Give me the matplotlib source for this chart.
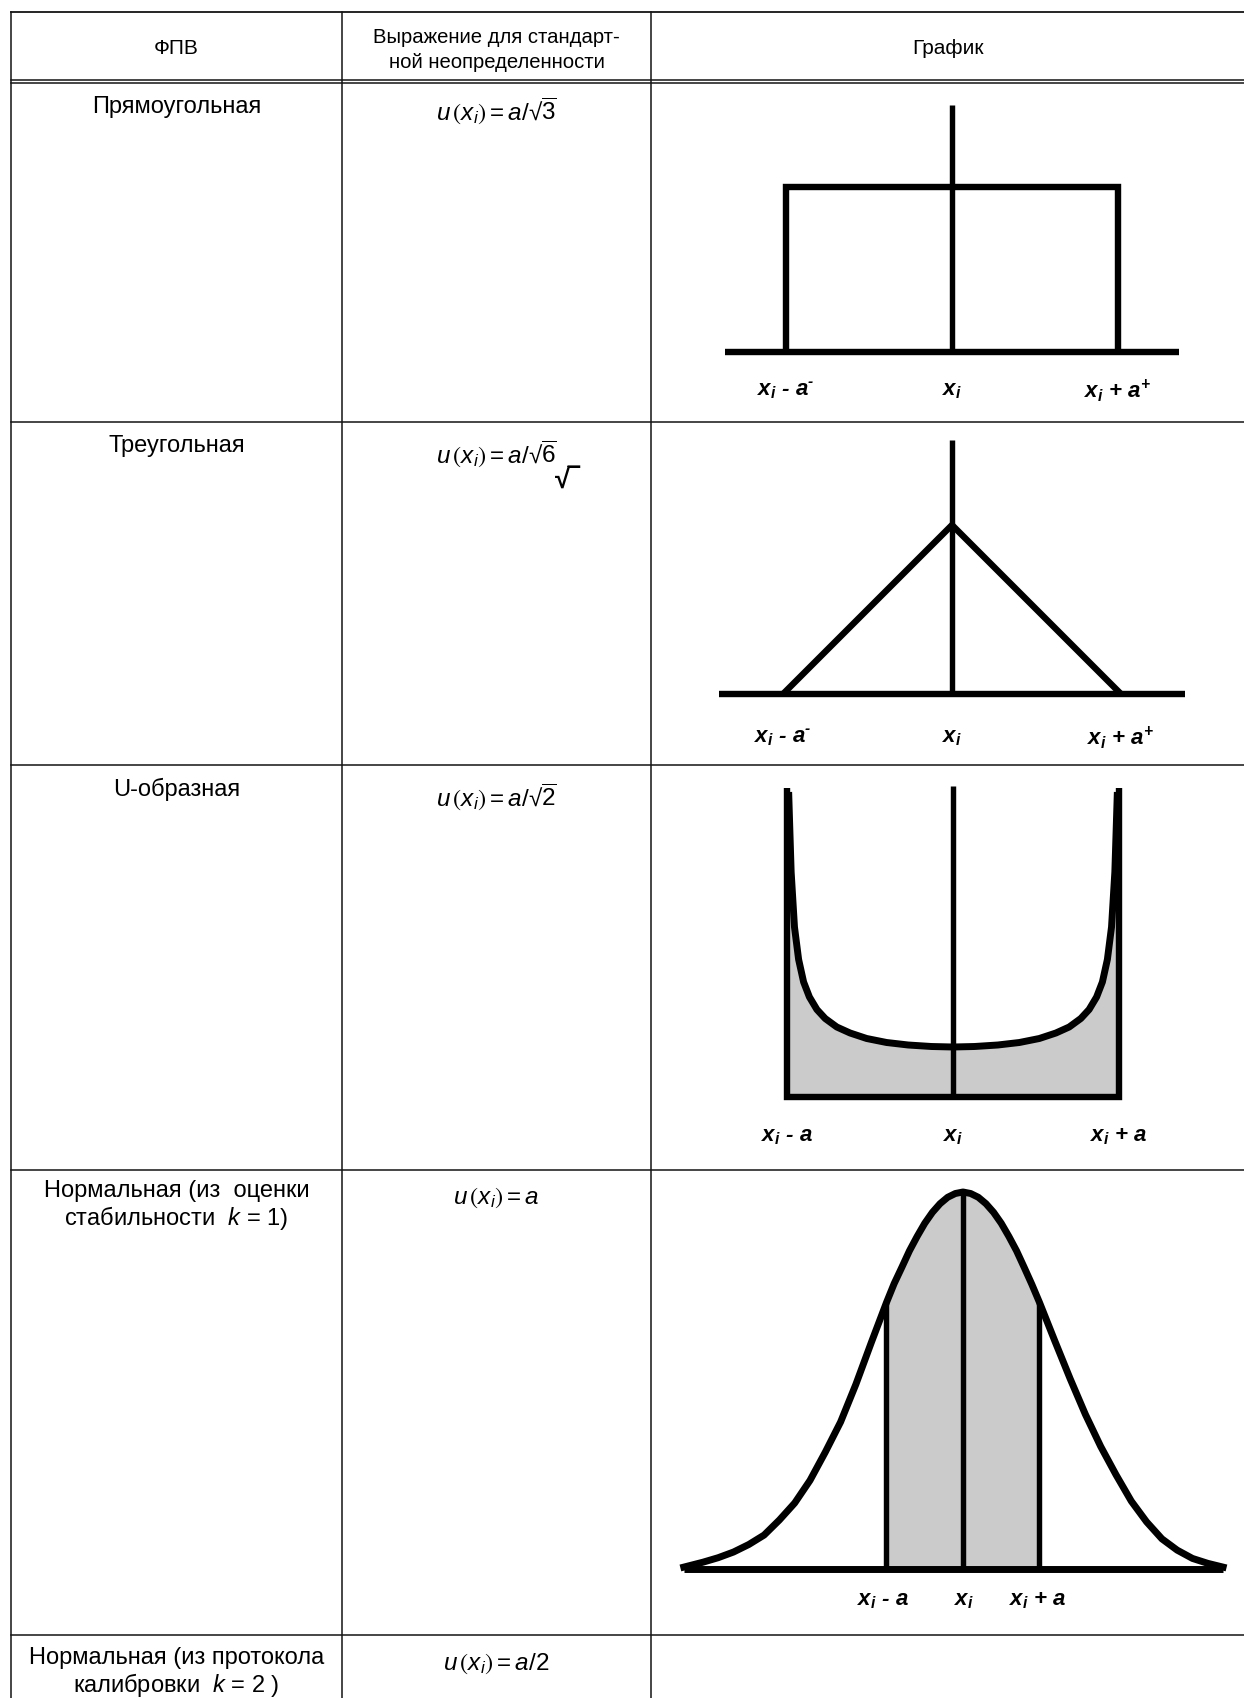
import numpy as np
import matplotlib
matplotlib.use('Agg')
import matplotlib.pyplot as plt

plt.rcParams['font.family'] = ['Liberation Sans', 'DejaVu Sans']
plt.rcParams['mathtext.fontset'] = 'custom'
plt.rcParams['mathtext.rm'] = 'Liberation Sans'
plt.rcParams['mathtext.it'] = 'Liberation Sans:italic'
plt.rcParams['mathtext.bf'] = 'Liberation Sans:bold:italic'
plt.rcParams['mathtext.fallback'] = 'stixsans'

# ---------------- data ----------------
headers = ['ФПВ', 'Выражение для стандарт-\nной неопределенности', 'График']
pdf_names = ['Прямоугольная', 'Треугольная', 'U-образная',
             'Нормальная (из  оценки\nстабильности  $k$ = 1)',
             'Нормальная (из протокола\nкалибровки  $k$ = 2 )']
formulas = ['$u\\,\\left(x_i\\right) = a/\u221a\\overline{3}$',
            '$u\\,\\left(x_i\\right) = a/\u221a\\overline{6}$',
            '$u\\,\\left(x_i\\right) = a/\u221a\\overline{2}$',
            r'$u\,\left(x_i\right) = a$',
            r'$u\,\left(x_i\right) = a/2$']
stray_radical = '\u221a\u203e'

labels_asym = ['$\\mathbf{x_i}$ - $\\mathbf{a^{\u2010}}$', r'$\mathbf{x_i}$', r'$\mathbf{x_i}$ + $\mathbf{a^{+}}$']
labels_sym = [r'$\mathbf{x_i}$ - $\mathbf{a}$', r'$\mathbf{x_i}$', r'$\mathbf{x_i}$ + $\mathbf{a}$']
label_pos = [-1.0, 0.0, 1.0]

# rectangular pdf
rect_x = [-1.0, -1.0, 1.0, 1.0]
rect_y = [0.0, 1.0, 1.0, 0.0]
# triangular pdf
tri_x = [-1.0, 0.0, 1.0]
tri_y = [0.0, 1.0, 0.0]
# U-shaped pdf (relative to its minimum)
u_x = [-0.99, -0.975, -0.955, -0.93, -0.90, -0.865, -0.82, -0.77, -0.70, -0.62,
       -0.52, -0.40, -0.27, -0.13, 0.0, 0.13, 0.27, 0.40, 0.52, 0.62, 0.70, 0.77,
       0.82, 0.865, 0.90, 0.93, 0.955, 0.975, 0.99]
u_y = [6.1, 4.5, 3.4, 2.75, 2.3, 2.0, 1.75, 1.57, 1.40, 1.28,
       1.17, 1.09, 1.04, 1.01, 1.0, 1.01, 1.04, 1.09, 1.17, 1.28, 1.40, 1.57,
       1.75, 2.0, 2.3, 2.75, 3.4, 4.5, 6.1]
# normal pdf (relative to its peak)
n_x = [-3.65, -3.4, -3.2, -3.0, -2.8, -2.6, -2.4, -2.2, -2.0, -1.8, -1.6, -1.4, -1.2,
       -1.0, -0.9, -0.8, -0.7, -0.6, -0.5, -0.4, -0.3, -0.2, -0.1, 0.0,
       0.1, 0.2, 0.3, 0.4, 0.5, 0.6, 0.7, 0.8, 0.9, 1.0,
       1.2, 1.4, 1.6, 1.8, 2.0, 2.2, 2.4, 2.6, 2.8, 3.0, 3.2, 3.4]
n_y = [0.005, 0.018, 0.03, 0.045, 0.065, 0.09, 0.13, 0.175, 0.235, 0.31, 0.39, 0.49, 0.6,
       0.707, 0.757, 0.80, 0.844, 0.882, 0.917, 0.946, 0.969, 0.986, 0.996, 1.0,
       0.996, 0.986, 0.969, 0.946, 0.917, 0.882, 0.844, 0.80, 0.755, 0.707,
       0.605, 0.505, 0.41, 0.325, 0.25, 0.18, 0.125, 0.08, 0.05, 0.028, 0.015, 0.005]

# ---------------- layout ----------------
W, H = 1244, 1699
DPI = 100
fig = plt.figure(figsize=(W / DPI, H / DPI), dpi=DPI)
bg = fig.add_axes([0, 0, 1, 1])
bg.set_xlim(0, W)
bg.set_ylim(H, 0)
bg.axis('off')

col_x = [11, 342, 651, 1245]
row_y = [82, 423, 766, 1171, 1636, 1720]
top_y = 12.5
LC = '#141414'
TLW = 1.1

# table lines
bg.plot([col_x[0], W], [top_y, top_y], color=LC, lw=1.3)
bg.plot([col_x[0], W], [row_y[0] - 1.5, row_y[0] - 1.5], color=LC, lw=TLW)
bg.plot([col_x[0], W], [row_y[0] + 1.5, row_y[0] + 1.5], color=LC, lw=TLW)
for y in row_y[1:-1]:
    bg.plot([col_x[0], W], [y, y], color=LC, lw=TLW)
for x in col_x:
    bg.plot([x, x], [top_y, H], color=LC, lw=TLW)

HFS = 15
FS = 17
MFS = 17.5
cx = [(col_x[i] + col_x[i + 1]) / 2 for i in range(3)]
bg.text(cx[0], 48, headers[0], ha='center', va='center', fontsize=HFS)
bg.text(cx[1], 50, headers[1], ha='center', va='center', fontsize=14.6, linespacing=1.45)
bg.text(cx[2], 48, headers[2], ha='center', va='center', fontsize=HFS)

name_y = [107, 446, 789, 1206, 1673]
form_y = [111, 454, 797, 1198, 1664]
for i in range(5):
    bg.text(cx[0], name_y[i], pdf_names[i], ha='center', va='center', fontsize=FS,
            linespacing=1.1)
    bg.text(cx[1], form_y[i], formulas[i], ha='center', va='center', fontsize=MFS)
bg.text(567, 481, stray_radical, ha='center', va='center', fontsize=FS + 3, fontweight='bold')


def graph_axes(left, right, top, bottom, xlim, ylim):
    ax = fig.add_axes([left / W, 1 - bottom / H, (right - left) / W, (bottom - top) / H])
    ax.set_xlim(*xlim)
    ax.set_ylim(*ylim)
    ax.axis('off')
    return ax


GLW = 4.6
CLW = 3.9
LFS = 16
lab_kw = dict(ha='center', va='center', fontsize=LFS, fontweight='bold', style='italic')

# graph 1: rectangular
cxp, ux, by, uy = 952, 166, 353, 165
ax1 = graph_axes(cxp - 1.6 * ux, cxp + 1.6 * ux, by - 1.6 * uy, by + 0.4 * uy, (-1.6, 1.6), (-0.4, 1.6))
ax1.plot([-1.37, 1.37], [0, 0], color='black', lw=GLW, solid_capstyle='butt')
ax1.plot(rect_x, rect_y, color='black', lw=GLW, solid_joinstyle='miter', solid_capstyle='butt')
ax1.plot([0, 0], [0, 1.5], color='black', lw=CLW, solid_capstyle='butt')
for lx, lb in zip(label_pos, labels_asym):
    ax1.text(lx, -0.23, lb, **lab_kw)

# graph 2: triangular
cxp, ux, by, uy = 952, 169, 695, 169
ax2 = graph_axes(cxp - 1.6 * ux, cxp + 1.6 * ux, by - 1.6 * uy, by + 0.4 * uy, (-1.6, 1.6), (-0.4, 1.6))
ax2.plot([-1.38, 1.38], [0, 0], color='black', lw=GLW, solid_capstyle='butt')
ax2.plot(tri_x, tri_y, color='black', lw=GLW, solid_joinstyle='miter', solid_capstyle='butt')
ax2.plot([0, 0], [0, 1.5], color='black', lw=CLW, solid_capstyle='butt')
for lx, lb in zip(label_pos, labels_asym):
    ax2.text(lx, -0.25, lb, **lab_kw)

# graph 3: U-shaped
cxp, ux, by, uy = 953, 166, 1098, 50
ax3 = graph_axes(cxp - 1.6 * ux, cxp + 1.6 * ux, by - 6.6 * uy, by + 1.2 * uy, (-1.6, 1.6), (-1.2, 6.6))
ax3.fill_between(u_x, 0, u_y, color='#cbcbcb', lw=0)
ax3.fill_between([-1.0, u_x[0]], 0, [u_y[0], u_y[0]], color='#cbcbcb', lw=0)
ax3.fill_between([u_x[-1], 1.0], 0, [u_y[-1], u_y[-1]], color='#cbcbcb', lw=0)
ax3.plot(u_x, u_y, color='black', lw=GLW + 0.4, solid_capstyle='butt')
ax3.plot([-1, -1, 1, 1], [6.18, 0, 0, 6.18], color='black', lw=GLW, solid_joinstyle='miter',
         solid_capstyle='butt')
ax3.plot([0, 0], [0, 6.22], color='black', lw=CLW, solid_capstyle='butt')
for lx, lb in zip(label_pos, labels_sym):
    ax3.text(lx, -0.78, lb, **lab_kw)

# graph 4: normal
cxp, ux, by, uy = 963, 76.5, 1570, 377
ax4 = graph_axes(cxp - 3.8 * ux, cxp + 3.8 * ux, by - 1.1 * uy, by + 0.15 * uy, (-3.8, 3.8), (-0.15, 1.1))
band = [i for i, v in enumerate(n_x) if -1.0 <= v <= 1.0]
ax4.fill_between([n_x[i] for i in band], 0, [n_y[i] for i in band], color='#cbcbcb', lw=0)
ax4.plot([n_x[0], n_x[-1]], [0, 0], color='black', lw=GLW + 0.4, solid_capstyle='butt')
ax4.plot(n_x, n_y, color='black', lw=GLW + 0.4)
for i in (band[0], band[-1]):
    ax4.plot([n_x[i], n_x[i]], [0, n_y[i]], color='black', lw=CLW, solid_capstyle='butt')
ax4.plot([0, 0], [0, 1.0], color='black', lw=CLW, solid_capstyle='butt')
for lx, lb in zip([-1.05, 0.01, 0.98], labels_sym):
    ax4.text(lx, -0.08, lb, **lab_kw)

fig.savefig('out.png', dpi=DPI)
